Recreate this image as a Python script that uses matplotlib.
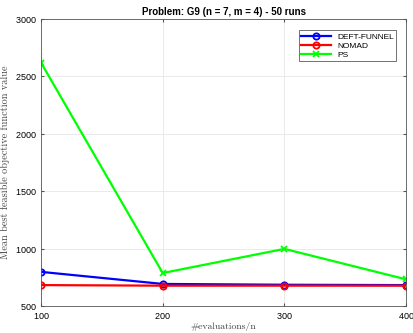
import numpy as np
import matplotlib
matplotlib.use("Agg")
import matplotlib.pyplot as plt

# mean best feasible objective value per budget
evals = [100, 200, 300, 400]
deft_funnel = [800, 695, 688, 685]
nomad = [685, 680, 680, 680]
ps = [2620, 790, 1000, 735]

plt.rcParams['font.family'] = ['Liberation Sans', 'DejaVu Sans']
plt.rcParams['axes.formatter.use_mathtext'] = True

fig = plt.figure(figsize=(4.13, 3.33), dpi=100)
ax = fig.add_axes([0.0993, 0.08, 0.884, 0.863])

ax.plot(evals, deft_funnel, color='#0000ff', lw=1.6, marker='o', ms=4.5,
        mfc='none', mew=1.3, label='DEFT-FUNNEL')
ax.plot(evals, nomad, color='#ff0000', lw=1.6, marker='o', ms=4.5,
        mfc='none', mew=1.3, label='NOMAD')
ax.plot(evals, ps, color='#00ff00', lw=1.6, marker='x', ms=4.5,
        mew=1.3, label='PS')

ax.set_xlim(100, 400)
ax.set_ylim(500, 3000)
ax.set_xticks(evals)
ax.set_yticks(np.arange(500, 3001, 500))
ax.grid(True, color='#e6e6e6', lw=0.6)
ax.set_axisbelow(True)
ax.tick_params(labelsize=6.5, length=2.5, direction='in', color='#555555',
               top=True, right=True, pad=2)
ax.tick_params(axis='x', pad=3)
ax.tick_params(axis='y', pad=3)
for s in ax.spines.values():
    s.set_color('#555555')
    s.set_linewidth(0.6)

ax.set_title('Problem: G9 (n = 7, m = 4) - 50 runs', fontsize=7,
             fontweight='bold', pad=3)
ax.set_xlabel('#evaluations/n', fontsize=7, family=['cmr10', 'DejaVu Serif'],
              color='#444444', labelpad=1)
ax.set_ylabel('Mean best feasible objective function value', fontsize=7.4,
              family=['cmr10', 'DejaVu Serif'], color='#444444', labelpad=4)

leg = ax.legend(loc='upper right', fontsize=6, frameon=True, fancybox=False,
                edgecolor='#333333', handlelength=3.5, borderpad=0.3,
                labelspacing=0.15, bbox_to_anchor=(0.985, 0.975))
leg.get_frame().set_linewidth(0.6)

fig.savefig('out.png', dpi=100)
